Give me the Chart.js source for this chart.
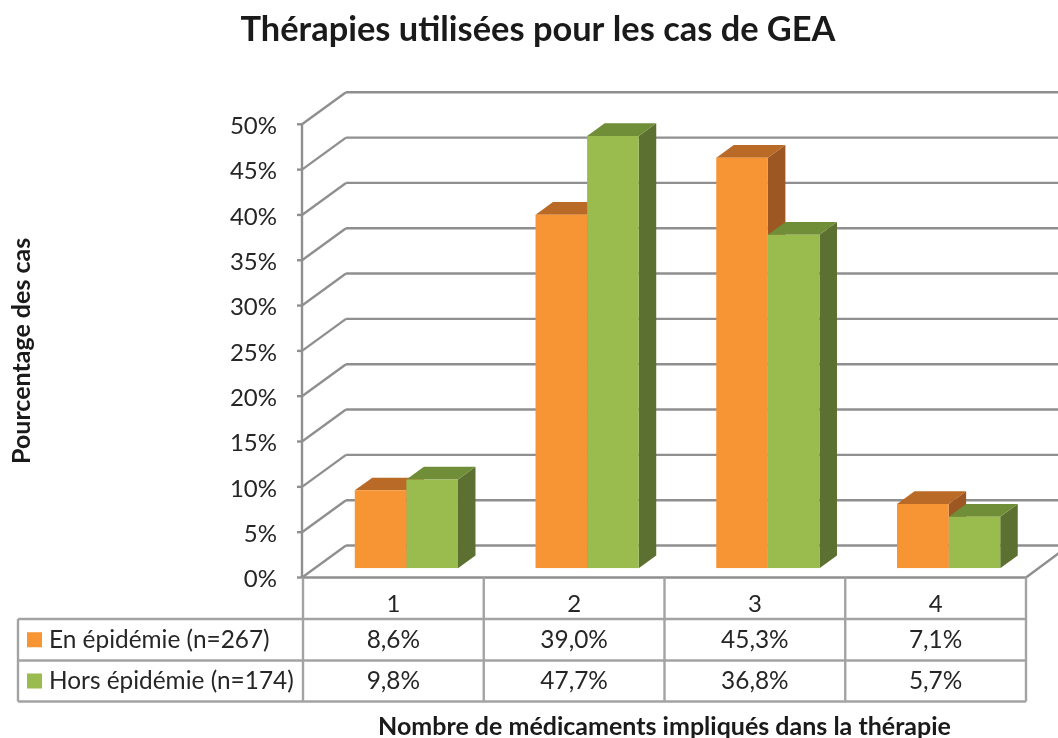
<!DOCTYPE html>
<html lang="fr">
<head>
<meta charset="utf-8">
<title>Thérapies utilisées pour les cas de GEA</title>
<script src="https://cdn.jsdelivr.net/npm/chart.js@4"></script>
<style>
  html, body { margin: 0; padding: 0; background: #fff; }
  canvas { display: block; }
</style>
</head>
<body>
<canvas id="chart" width="1058" height="738"></canvas>
<script>
const categories = ["1", "2", "3", "4"];
const enEpidemie = [8.6, 39.0, 45.3, 7.1];
const horsEpidemie = [9.8, 47.7, 36.8, 5.7];
const seriesNames = ["En épidémie (n=267)", "Hors épidémie (n=174)"];

const FONT = "Lato, 'Open Sans', sans-serif";
const TEXT = "#262626";
const GRID = "#8f8f8f";

// front, top and side colours of the bars
const orange = { front: "#f79433", top: "#b96a26", side: "#9c5722" };
const green = { front: "#9abb4d", top: "#708d38", side: "#5c7131" };

const pct = v => v.toFixed(1).replace(".", ",") + "%";

function line(ctx, x1, y1, x2, y2) {
  ctx.beginPath();
  ctx.moveTo(x1, y1);
  ctx.lineTo(x2, y2);
  ctx.stroke();
}

function poly(ctx, pts, color) {
  ctx.fillStyle = color;
  ctx.beginPath();
  pts.forEach((p, i) => i ? ctx.lineTo(p[0], p[1]) : ctx.moveTo(p[0], p[1]));
  ctx.closePath();
  ctx.fill();
}

// fake 3D: floor and walls, bars pushed back, top and side faces
const depthX = 43, depthY = 32;
const barDx = 13, barDy = -9.2;
const faceX = 17.5, faceY = 12.7;

const fake3d = {
  id: "fake3d",
  afterLayout(chart) {
    // the title sits a bit right of the canvas centre
    chart.titleBlock.left += 25;
    chart.titleBlock.right += 25;
  },
  beforeDatasetsDraw(chart) {
    const { ctx, chartArea: a, scales: { y } } = chart;
    ctx.save();
    ctx.strokeStyle = GRID;
    ctx.lineWidth = 2.4;
    y.ticks.forEach(t => {
      const py = y.getPixelForValue(t.value);
      line(ctx, a.left - 6, py, a.left, py);
      line(ctx, a.left - 1, py, a.left + depthX, py - depthY);
      line(ctx, a.left + depthX, py - depthY, a.right + depthX, py - depthY);
    });
    line(ctx, a.left - 1, a.top, a.left - 1, a.bottom);
    line(ctx, a.left - 1, a.bottom, a.right, a.bottom);
    line(ctx, a.right, a.bottom, a.right + depthX, a.bottom - depthY);

    // side and top faces go under the fronts drawn by the library
    ctx.translate(barDx, barDy);
    [orange, green].forEach((c, d) => {
      chart.getDatasetMeta(d).data.forEach(b => {
        const l = b.x - b.width / 2, r = b.x + b.width / 2;
        poly(ctx, [[r, b.y], [r + faceX, b.y - faceY], [r + faceX, b.base - faceY], [r, b.base]], c.side);
        poly(ctx, [[l, b.y], [l + faceX, b.y - faceY], [r + faceX, b.y - faceY], [r, b.y]], c.top);
      });
    });
  },
  afterDatasetsDraw(chart) {
    chart.ctx.restore();
  },
  afterDraw(chart) {
    // data table under the x axis
    const { ctx, chartArea: a, scales: { x } } = chart;
    const rows = [619, 660.5, 701.5];
    const tableLeft = 18;
    const cell = (a.right - a.left) / categories.length;
    const data = [enEpidemie, horsEpidemie];
    const colors = [orange.front, green.front];

    ctx.save();
    ctx.strokeStyle = "#a3a3a3";
    ctx.lineWidth = 2.4;
    rows.forEach(r => line(ctx, tableLeft, r, a.right, r));
    line(ctx, tableLeft, rows[0], tableLeft, rows[2]);
    for (let i = 0; i <= categories.length; i++) {
      line(ctx, a.left + i * cell, a.bottom, a.left + i * cell, rows[2]);
    }

    ctx.font = "24.4px " + FONT;
    ctx.textBaseline = "middle";
    data.forEach((vals, r) => {
      const mid = (rows[r] + rows[r + 1]) / 2;
      ctx.fillStyle = colors[r];
      ctx.fillRect(27, mid - 7.5, 15, 15);
      ctx.fillStyle = TEXT;
      ctx.textAlign = "left";
      ctx.fillText(seriesNames[r], 49, mid);
      ctx.textAlign = "center";
      vals.forEach((v, i) => ctx.fillText(pct(v), x.getPixelForValue(i), mid));
    });
    ctx.restore();
  }
};

new Chart(document.getElementById("chart"), {
  type: "bar",
  data: {
    labels: categories,
    datasets: [
      { label: seriesNames[0], data: enEpidemie, backgroundColor: orange.front },
      { label: seriesNames[1], data: horsEpidemie, backgroundColor: green.front }
    ]
  },
  plugins: [fake3d],
  options: {
    responsive: false,
    animation: false,
    layout: { padding: { right: 32 } },
    categoryPercentage: 0.571,
    barPercentage: 1,
    plugins: {
      legend: { display: false },
      tooltip: { enabled: false },
      title: {
        display: true,
        text: "Thérapies utilisées pour les cas de GEA",
        color: "#1a1a1a",
        font: { family: FONT, size: 34.4, weight: "bold", lineHeight: 1.2 },
        padding: { top: 9, bottom: 74 }
      }
    },
    scales: {
      x: {
        afterFit(s) { s.height = 160.5; },
        grid: { display: false, drawTicks: false },
        border: { display: false },
        ticks: { color: TEXT, padding: 12, font: { family: FONT, size: 24 }, maxRotation: 0 },
        title: {
          display: true,
          text: "Nombre de médicaments impliqués dans la thérapie",
          color: "#1a1a1a",
          font: { family: FONT, size: 25, weight: "bold" },
          padding: { top: 0, bottom: -4 }
        }
      },
      y: {
        min: 0,
        max: 50,
        afterFit(s) { s.width = 303; },
        grid: { display: false, drawTicks: false },
        border: { display: false },
        ticks: {
          stepSize: 5,
          color: TEXT,
          padding: 26,
          labelOffset: 2,
          font: { family: FONT, size: 24 },
          callback: v => v + "%"
        },
        title: {
          display: true,
          text: "Pourcentage des cas",
          color: "#1a1a1a",
          font: { family: FONT, size: 25, weight: "bold" },
          padding: { top: 7, bottom: 0 }
        }
      }
    }
  }
});
</script>
</body>
</html>
